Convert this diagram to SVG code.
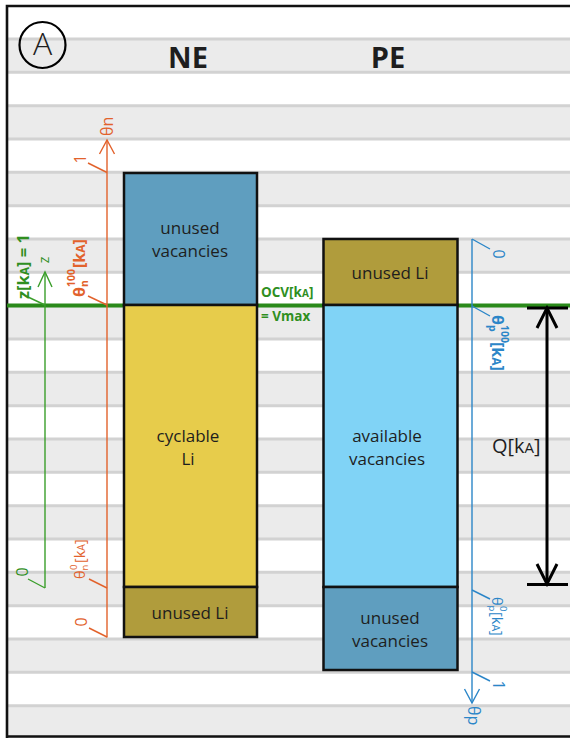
<svg xmlns="http://www.w3.org/2000/svg" width="570" height="738" viewBox="0 0 570 738">
  <defs>
    <style>
      .t { font-family: "Open Sans", "Noto Sans", "DejaVu Sans", sans-serif; fill: #1e1e1e; }
      .lbl { font-size: 17px; text-anchor: middle; }
      .band { fill: #ebebeb; }
      .rule { stroke: #d2d2d2; stroke-width: 3; }
      .col { stroke: #111; stroke-width: 2.5; }
      .vac { fill: #5f9ebf; }
      .li { fill: #e7cc4b; }
      .uli { fill: #b09c3c; }
      .avail { fill: #80d3f6; }
      .or { stroke: #e2622c; fill: none; stroke-width: 1.4; }
      .orT { fill: #e2622c; font-family: "Open Sans", "Noto Sans", sans-serif; }
      .gr { stroke: #3a9e2a; fill: none; stroke-width: 1.4; }
      .grT { fill: #2f8f1f; font-family: "Open Sans", "Noto Sans", sans-serif; }
      .bl { stroke: #2b86c8; fill: none; stroke-width: 1.4; }
      .blT { fill: #2b86c8; font-family: "Open Sans", "Noto Sans", sans-serif; }
      .bk { stroke: #000; fill: none; stroke-width: 3; }
    </style>
  </defs>

  <!-- background with alternating horizontal bands -->
  <rect x="0" y="0" width="570" height="738" fill="#ffffff"/>
  <g id="bands">
    <rect class="band" x="8" y="39" width="562" height="33.3"/>
    <rect class="band" x="8" y="105.7" width="562" height="33.3"/>
    <rect class="band" x="8" y="172.3" width="562" height="33.3"/>
    <rect class="band" x="8" y="239" width="562" height="33.3"/>
    <rect class="band" x="8" y="305.7" width="562" height="33.3"/>
    <rect class="band" x="8" y="372.3" width="562" height="33.3"/>
    <rect class="band" x="8" y="439" width="562" height="33.3"/>
    <rect class="band" x="8" y="505.7" width="562" height="33.3"/>
    <rect class="band" x="8" y="572.3" width="562" height="33.3"/>
    <rect class="band" x="8" y="639" width="562" height="33.3"/>
    <rect class="band" x="8" y="705.7" width="562" height="33.3"/>
    <path class="rule" d="M8 39H570M8 72.3H570M8 105.7H570M8 139H570M8 172.3H570M8 205.7H570M8 239H570M8 272.3H570M8 305.7H570M8 339H570M8 372.3H570M8 405.7H570M8 439H570M8 472.3H570M8 505.7H570M8 539H570M8 572.3H570M8 605.7H570M8 639H570M8 672.3H570M8 705.7H570"/>
  </g>

  <!-- frame -->
  <path d="M7 738V6H570M7 736.5H570" stroke="#111" stroke-width="2.6" fill="none"/>

  <!-- panel tag -->
  <g id="tag">
    <circle cx="42.5" cy="45" r="23" fill="none" stroke="#000" stroke-width="2.2"/>
    <text class="t" x="42.5" y="55" font-size="32" font-weight="300" text-anchor="middle">A</text>
  </g>

  <text class="t" x="188" y="68" font-size="29" font-weight="700" text-anchor="middle">NE</text>
  <text class="t" x="388" y="68" font-size="29" font-weight="700" text-anchor="middle">PE</text>

  <!-- top-of-charge line -->
  <line x1="7" y1="305.5" x2="570" y2="305.5" stroke="#2a8a1a" stroke-width="4"/>

  <!-- negative electrode column -->
  <g id="ne">
    <g id="ne-unused-vacancies">
      <rect class="vac col" x="124" y="173" width="133" height="132"/>
      <text class="t lbl" x="190" y="234">unused</text>
      <text class="t lbl" x="190" y="257">vacancies</text>
    </g>
    <g id="ne-cyclable-li">
      <rect class="li col" x="124" y="305" width="133" height="282"/>
      <text class="t lbl" x="188" y="442">cyclable</text>
      <text class="t lbl" x="188" y="465">Li</text>
    </g>
    <g id="ne-unused-li">
      <rect class="uli col" x="124" y="587" width="133" height="50"/>
      <text class="t lbl" x="190" y="619">unused Li</text>
    </g>
  </g>

  <!-- positive electrode column -->
  <g id="pe">
    <g id="pe-unused-li">
      <rect class="uli col" x="323.5" y="239" width="134" height="66"/>
      <text class="t lbl" x="390" y="279">unused Li</text>
    </g>
    <g id="pe-available-vacancies">
      <rect class="avail col" x="323.5" y="305" width="134" height="282"/>
      <text class="t lbl" x="387" y="442">available</text>
      <text class="t lbl" x="387" y="465">vacancies</text>
    </g>
    <g id="pe-unused-vacancies">
      <rect class="vac col" x="323.5" y="587" width="134" height="83"/>
      <text class="t lbl" x="390" y="624">unused</text>
      <text class="t lbl" x="390" y="647">vacancies</text>
    </g>
  </g>

  <!-- OCV note -->
  <g id="ocv">
    <text class="grT" x="261" y="297" font-size="13.5" font-weight="700">OCV[k<tspan font-size="10">A</tspan>]</text>
    <text class="grT" x="261" y="321" font-size="13.5" font-weight="700">= Vmax</text>
  </g>

  <g id="connectors">
    <!-- NE stoichiometry axis -->
    <g id="axis-n">
      <path class="or" d="M107 140V637.5"/>
      <path class="or" d="M99.5 154L107 140L114.5 154"/>
      <path class="or" d="M88 163L107 172.5"/>
      <path class="or" d="M88 296L107 305" stroke-width="3.2"/>
      <path class="or" d="M89 579L107 588"/>
      <path class="or" d="M89 628L107 637"/>
    </g>
    <!-- state-of-charge axis -->
    <g id="axis-z">
      <path class="gr" d="M45 272V588"/>
      <path class="gr" d="M38 287L45 272L52 287"/>
      <path class="gr" d="M28 297L45 305" stroke="#2a8a1a" stroke-width="3.2"/>
      <path class="gr" d="M28 579L45 588"/>
    </g>
    <!-- PE stoichiometry axis -->
    <g id="axis-p">
      <path class="bl" d="M472 239V703"/>
      <path class="bl" d="M464.5 689L472 703L479.5 689"/>
      <path class="bl" d="M472 239L490 249"/>
      <path class="bl" d="M472 306L490 316" stroke-width="3.2"/>
      <path class="bl" d="M472 590L490 599"/>
      <path class="bl" d="M472 672L490 681"/>
    </g>
    <!-- capacity span -->
    <g id="capacity">
      <path class="bk" d="M547 308V584"/>
      <path class="bk" d="M527 308H568M527 584.5H568"/>
      <path class="bk" d="M537 328L547 308L557 328M537 564L547 584L557 564"/>
    </g>
  </g>

  <!-- axis labels, NE side (read upward) -->
  <g id="labels-n">
    <text class="orT" transform="translate(113,136) rotate(-90)" font-size="16">θn</text>
    <text class="orT" transform="translate(85.5,159) rotate(-90)" font-size="16" text-anchor="middle">1</text>
    <text class="orT" transform="translate(84.5,297) rotate(-90)" font-size="16" font-weight="700">θ<tspan font-size="10.5" dy="3">n</tspan><tspan font-size="10.5" x="10" dy="-12.5">100</tspan><tspan x="29" y="0">[k<tspan font-size="12">A</tspan>]</tspan></text>
    <text class="orT" transform="translate(85,579) rotate(-90)" font-size="14.5">θ<tspan font-size="9.5" dy="3">n</tspan><tspan font-size="9.5" x="9" dy="-11">0</tspan><tspan x="16" y="0">[k<tspan font-size="10.5">A</tspan>]</tspan></text>
    <text class="orT" transform="translate(86.5,622) rotate(-90)" font-size="16" text-anchor="middle">0</text>
  </g>

  <g id="labels-z">
    <text class="grT" transform="translate(28.5,299) rotate(-90)" font-size="16.5" font-weight="700">z[k<tspan font-size="12">A</tspan>] = 1</text>
    <text class="grT" transform="translate(48.5,260) rotate(-90)" font-size="14" text-anchor="middle">z</text>
    <text class="grT" transform="translate(27.5,572) rotate(-90)" font-size="16" text-anchor="middle">0</text>
  </g>

  <!-- axis labels, PE side (read downward) -->
  <g id="labels-p">
    <text class="blT" transform="translate(492.5,254) rotate(90)" font-size="16" text-anchor="middle">0</text>
    <text class="blT" transform="translate(491.5,315) rotate(90)" font-size="16" font-weight="700">θ<tspan font-size="10.5" dy="3">p</tspan><tspan font-size="10.5" x="10" dy="-12.5">100</tspan><tspan x="27" y="0">[k<tspan font-size="12">A</tspan>]</tspan></text>
    <text class="blT" transform="translate(491.5,597) rotate(90)" font-size="14.5">θ<tspan font-size="9.5" dy="3">p</tspan><tspan font-size="9.5" x="9" dy="-11">0</tspan><tspan x="15" y="0">[k<tspan font-size="10.5">A</tspan>]</tspan></text>
    <text class="blT" transform="translate(492.5,685) rotate(90)" font-size="16" text-anchor="middle">1</text>
    <text class="blT" transform="translate(467.5,706) rotate(90)" font-size="16">θp</text>
  </g>

  <text class="t" x="492" y="453" font-size="20">Q[k<tspan font-size="15">A</tspan>]</text>
</svg>
